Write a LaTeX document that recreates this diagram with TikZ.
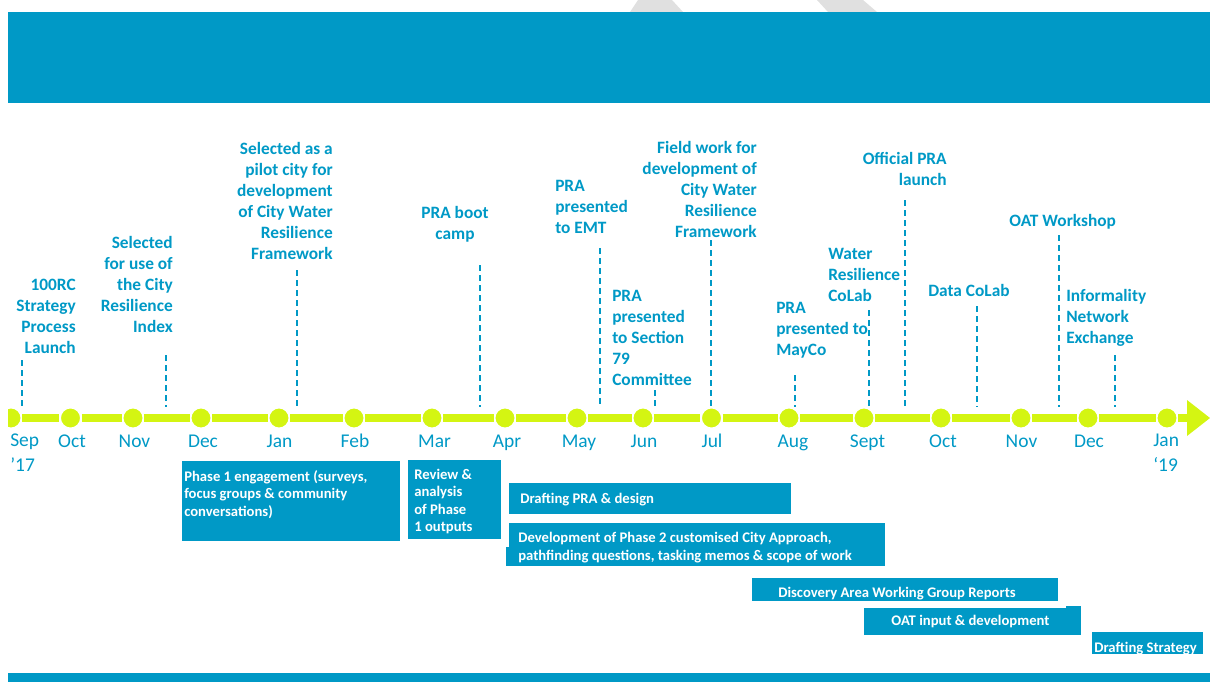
\documentclass[tikz,border=0pt]{standalone}
\usepackage{fontspec}
\setmainfont{Carlito}
\usetikzlibrary{positioning,calc,fit}
\definecolor{rcblue}{RGB}{0,153,198}
\definecolor{tlgreen}{RGB}{212,245,18}
\definecolor{wmgrey}{RGB}{224,224,224}
\tikzset{
  every picture/.style={x=0.75pt, y=-0.75pt},
  spine/.style={tlgreen, line width=6pt},
  mdot/.style={circle, fill=tlgreen, draw=white, line width=1.2pt,
               minimum size=15.5pt, inner sep=0pt},
  mlabel/.style={anchor=base, align=left, text=rcblue, inner sep=0pt,
                 font=\fontsize{14.6}{18.4}\selectfont},
  evtR/.style={anchor=base east, align=right, text=rcblue, inner sep=0pt,
               font=\fontsize{13}{15.75}\selectfont\bfseries},
  evtL/.style={evtR, anchor=base west, align=left},
  evtC/.style={evtR, anchor=base, align=center},
  evtline/.style={rcblue, line width=1.5pt, dash pattern=on 4.5pt off 3pt},
  bar/.style={fill=rcblue, inner sep=0pt},
  bartext/.style={anchor=base west, align=left, text=white, inner sep=0pt,
                  font=\fontsize{11}{13.1}\selectfont\bfseries},
}

\begin{document}
\begin{tikzpicture}
  \useasboundingbox (0,0) rectangle (1210,682);
  % grey corners behind the banner, banner and footer strip
  \fill[wmgrey] (630,12) -- (638,0) -- (672,0) -- (683,12) -- cycle;
  \fill[wmgrey] (817,0) -- (863,0) -- (877,12) -- (828,12) -- cycle;
  \fill[rcblue] (8,12) rectangle (1210,103);
  \fill[rcblue] (8,673) rectangle (1210,682);

  % month dots on the spine
  \begin{scope}
    \clip (8,0) rectangle (1210,682);
    \node[mdot] (mSep)  at (11,418) {};
    \node[mdot] (mOct)  at (70.5,418) {};
    \node[mdot] (mNov)  at (133,418) {};
    \node[mdot] (mDec)  at (201,418) {};
    \node[mdot] (mJan)  at (279,418) {};
    \node[mdot] (mFeb)  at (354,418) {};
    \node[mdot] (mMar)  at (432,418) {};
    \node[mdot] (mApr)  at (505,418) {};
    \node[mdot] (mMay)  at (577,418) {};
    \node[mdot] (mJun)  at (643,418) {};
    \node[mdot] (mJul)  at (711.5,418) {};
    \node[mdot] (mAug)  at (789,418) {};
    \node[mdot] (mSept) at (864,418) {};
    \node[mdot] (mOctb) at (941,418) {};
    \node[mdot] (mNovb) at (1021,418) {};
    \node[mdot] (mDecb) at (1088,418) {};
    \node[mdot] (mJanb) at (1167,418) {};
    \coordinate (tip) at (1187,418);
    \draw[spine] (mSep) -- (mOct) (mOct) -- (mNov) (mNov) -- (mDec)
                 (mDec) -- (mJan) (mJan) -- (mFeb) (mFeb) -- (mMar)
                 (mMar) -- (mApr) (mApr) -- (mMay) (mMay) -- (mJun)
                 (mJun) -- (mJul) (mJul) -- (mAug) (mAug) -- (mSept)
                 (mSept) -- (mOctb) (mOctb) -- (mNovb) (mNovb) -- (mDecb)
                 (mDecb) -- (mJanb) (mJanb) -- (tip);
    \fill[tlgreen] (1187,400) -- (1210,418) -- (1187,436) -- cycle;
  \end{scope}

  % month names (multi-line nodes sit on their last baseline)
  \node[mlabel, anchor=base west] (lSep) at (10,471.5) {Sep\\’17};
  \node[mlabel] (lOct)  at (72,447) {Oct};
  \node[mlabel] (lNov)  at (134.5,447) {Nov};
  \node[mlabel] (lDec)  at (203,447) {Dec};
  \node[mlabel] (lJan)  at (279.5,447) {Jan};
  \node[mlabel] (lFeb)  at (355,447) {Feb};
  \node[mlabel] (lMar)  at (434.5,447) {Mar};
  \node[mlabel] (lApr)  at (507,447) {Apr};
  \node[mlabel] (lMay)  at (579,447) {May};
  \node[mlabel] (lJun)  at (644,447) {Jun};
  \node[mlabel] (lJul)  at (712,447) {Jul};
  \node[mlabel] (lAug)  at (793,447) {Aug};
  \node[mlabel] (lSept) at (867.5,447) {Sept};
  \node[mlabel] (lOctb) at (943,447) {Oct};
  \node[mlabel] (lNovb) at (1021.5,447) {Nov};
  \node[mlabel] (lDecb) at (1089,447) {Dec};
  \node[mlabel, anchor=base west] (lJanb) at (1153,471.5) {Jan\\‘19};

  % milestones above the spine
  \node[evtR] (evLaunch) at (76,353) {100RC\\Strategy\\Process\\Launch};
  \node[evtR] (evIndex) at (173,332)
        {Selected\\for use of\\the City\\Resilience\\Index};
  \node[evtR] (evPilot) at (333,259)
        {Selected as a\\pilot city for\\development\\of City Water\\Resilience\\Framework};
  \node[evtC] (evBoot) at (455,239) {PRA boot\\camp};
  \node[evtL] (evEMT) at (555,233) {PRA\\presented\\to EMT};
  \node[evtL] (evSec79) at (612,385)
        {PRA\\presented\\to Section\\79\\Committee};
  \node[evtR] (evField) at (757,237)
        {Field work for\\development of\\City Water\\Resilience\\Framework};
  \node[evtL] (evMayCo) at (776,355) {PRA\\presented to\\MayCo};
  \node[evtL] (evWRCoLab) at (828,301) {Water\\Resilience\\CoLab};
  \node[evtR] (evOfficial) at (947,185) {Official PRA\\launch};
  \node[evtL] (evDataCoLab) at (928,296) {Data CoLab};
  \node[evtL] (evOATws) at (1009,226) {OAT Workshop};
  \node[evtL] (evInformality) at (1066,343)
        {Informality\\Network\\Exchange};

  % dashed drop lines to the spine
  \coordinate (dLaunch) at (22,360);
  \coordinate (dIndex) at (166,355);
  \coordinate (dPilot) at (297,270);
  \coordinate (dBoot) at (480,265);
  \coordinate (dEMT) at (600,248);
  \coordinate (dSec79) at (655,390);
  \coordinate (dField) at (711,240);
  \coordinate (dMayCo) at (795,375);
  \coordinate (dWRCoLab) at (869,310);
  \coordinate (dOfficial) at (905,200);
  \coordinate (dDataCoLab) at (977,306);
  \coordinate (dOATws) at (1059,235);
  \coordinate (dInformality) at (1115,355);
  \draw[evtline] (dLaunch) -- (dLaunch |- mSep.north);
  \draw[evtline] (dIndex) -- (dIndex |- mSep.north);
  \draw[evtline] (dPilot) -- (dPilot |- mSep.north);
  \draw[evtline] (dBoot) -- (dBoot |- mSep.north);
  \draw[evtline] (dEMT) -- (dEMT |- mSep.north);
  \draw[evtline] (dSec79) -- (dSec79 |- mSep.north);
  \draw[evtline] (dField) -- (dField |- mSep.north);
  \draw[evtline] (dMayCo) -- (dMayCo |- mSep.north);
  \draw[evtline] (dWRCoLab) -- (dWRCoLab |- mSep.north);
  \draw[evtline] (dOfficial) -- (dOfficial |- mSep.north);
  \draw[evtline] (dDataCoLab) -- (dDataCoLab |- mSep.north);
  \draw[evtline] (dOATws) -- (dOATws |- mSep.north);
  \draw[evtline] (dInformality) -- (dInformality |- mSep.north);

  % work-stream bars below the spine
  \node[bar, fit={(182,461) (400,541)}] (barPhase1) {};
  \node[bartext] (tPhase1) at (184,516)
        {Phase 1 engagement (surveys,\\focus groups \& community\\conversations)};
  \node[bar, fit={(408,460) (501,539)}] (barReview) {};
  \node[bartext] (tReview) at (414,531.5)
        {Review \&\\analysis\\of Phase\\1 outputs};
  \node[bar, fit={(509,483) (791,514)}] (barDraftPRA) {};
  \node[bartext] (tDraftPRA) at (520,503) {Drafting PRA \& design};
  \node[bar, fit={(509,523) (885,547)}] (barDevA) {};
  \node[bar, fit={(506,547) (885,566)}] (barDevB) {};
  \node[bartext] (tDev) at (518,560)
        {Development of Phase 2 customised City Approach,\\pathfinding questions, tasking memos \& scope of work};
  \node[bar, fit={(752,578) (1058,601)}] (barDiscovery) {};
  \node[bartext] (tDiscovery) at (778,597)
        {Discovery Area Working Group Reports};
  \node[bar, fit={(864,608) (1081,635)}] (barOAT) {};
  \node[bar, fit={(1066,606) (1081,608)}] (barOATstep) {};
  \node[bartext] (tOAT) at (891,625) {OAT input \& development};
  \node[bar, fit={(1092,632) (1203,654)}] (barStrategy) {};
  \node[bartext] (tStrategy) at (1094,652) {Drafting Strategy};
\end{tikzpicture}
\end{document}
